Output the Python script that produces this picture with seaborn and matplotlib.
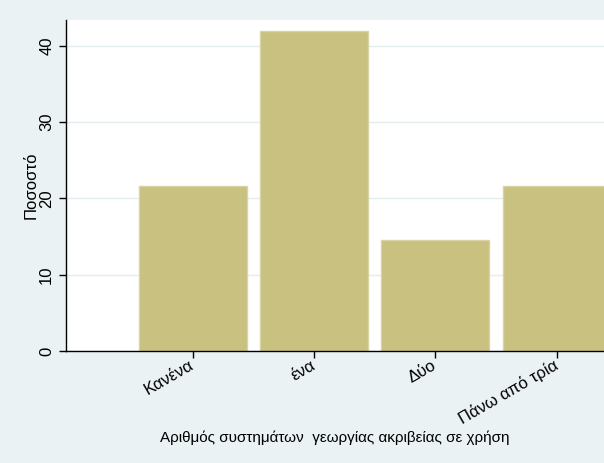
import matplotlib
matplotlib.use("Agg")
import matplotlib.pyplot as plt
import seaborn as sns
import pandas as pd

# Δεδομένα
kategories = ["Κανένα", "ένα", "Δύο", "Πάνω από τρία"]
pososto = [21.7, 42.0, 14.5, 21.7]
y_ticks = [0, 10, 20, 30, 40]

df = pd.DataFrame({"kat": kategories, "pct": pososto})

sns.set_style("white")
plt.rcParams["font.family"] = ["Liberation Sans", "DejaVu Sans"]
plt.rcParams["text.color"] = "black"
plt.rcParams["axes.labelcolor"] = "black"
plt.rcParams["xtick.color"] = "black"
plt.rcParams["ytick.color"] = "black"

bg = "#EAF2F3"
fig = plt.figure(figsize=(6.04, 4.63), dpi=100, facecolor=bg)
ax = fig.add_axes([0.1093, 0.2419, 0.8907, 0.7149])
ax.set_facecolor("white")

sns.barplot(data=df, x="kat", y="pct", order=kategories, color="#C9C17F",
            saturation=1, width=0.89, edgecolor="#D9D4A6", linewidth=1, ax=ax)

ax.set_xlim(-1.045, 3.39)
ax.set_ylim(0, 43.4)
ax.set_yticks(y_ticks)
ax.yaxis.grid(True, color="#E4EDEF", linewidth=1)
ax.set_axisbelow(True)

for s in ["top", "right"]:
    ax.spines[s].set_visible(False)
for s in ["left", "bottom"]:
    ax.spines[s].set_color("black")
    ax.spines[s].set_linewidth(1)

ax.tick_params(axis="both", direction="out", length=5, width=1, color="black",
               labelsize=12, left=True, bottom=True, labelcolor="black")
ax.tick_params(axis="x", pad=4.5)
plt.setp(ax.get_yticklabels(), rotation=90, va="center")
plt.setp(ax.get_xticklabels(), rotation=30, ha="right", va="center",
         rotation_mode="anchor")

ax.set_ylabel("Ποσοστό", fontsize=12, va="center")
ax.yaxis.set_label_coords(-0.065, 0.5)
ax.set_xlabel("Αριθμός συστημάτων  γεωργίας ακριβείας σε χρήση", fontsize=11, va="center")
ax.xaxis.set_label_coords(0.5, -0.263)

fig.savefig("out.png", dpi=100, facecolor=bg)
